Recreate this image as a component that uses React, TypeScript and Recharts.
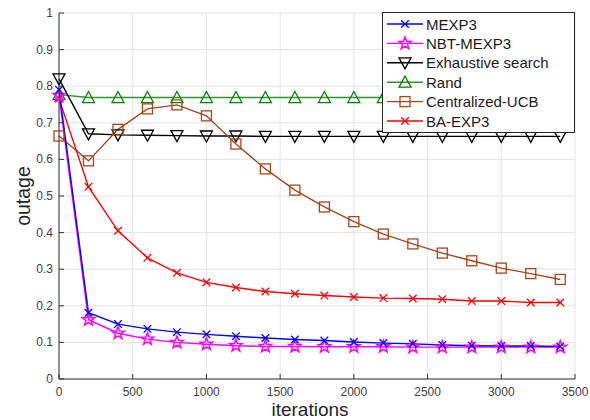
import React from 'react';
import { LineChart, Line, XAxis, YAxis, CartesianGrid } from 'recharts';

const iterations = [0, 200, 400, 600, 800, 1000, 1200, 1400, 1600, 1800, 2000, 2200, 2400, 2600, 2800, 3000, 3200, 3400];
const mexp3 = [0.79, 0.181, 0.15, 0.137, 0.128, 0.122, 0.117, 0.112, 0.108, 0.105, 0.101, 0.098, 0.096, 0.093, 0.091, 0.09, 0.09, 0.089];
const nbtMexp3 = [0.775, 0.162, 0.125, 0.109, 0.1, 0.095, 0.091, 0.089, 0.089, 0.088, 0.088, 0.088, 0.087, 0.087, 0.087, 0.087, 0.087, 0.087];
const exhaustive = [0.82, 0.67, 0.667, 0.666, 0.665, 0.664, 0.664, 0.663, 0.663, 0.663, 0.663, 0.663, 0.663, 0.663, 0.663, 0.663, 0.663, 0.663];
const rand = [0.777, 0.769, 0.769, 0.769, 0.769, 0.769, 0.769, 0.769, 0.769, 0.769, 0.769, 0.769, 0.769, 0.769, 0.769, 0.769, 0.769, 0.769];
const centralizedUcb = [0.664, 0.596, 0.682, 0.738, 0.749, 0.719, 0.642, 0.574, 0.516, 0.47, 0.43, 0.396, 0.369, 0.344, 0.323, 0.303, 0.288, 0.272];
const baExp3 = [0.766, 0.525, 0.405, 0.331, 0.29, 0.264, 0.25, 0.239, 0.233, 0.228, 0.224, 0.221, 0.22, 0.218, 0.213, 0.213, 0.209, 0.209];

const xTicks = [0, 500, 1000, 1500, 2000, 2500, 3000, 3500];
const yTicks = [0, 0.1, 0.2, 0.3, 0.4, 0.5, 0.6, 0.7, 0.8, 0.9, 1];

const data = iterations.map((it, i) => ({
  it,
  mexp3: mexp3[i],
  nbt: nbtMexp3[i],
  exh: exhaustive[i],
  rand: rand[i],
  ucb: centralizedUcb[i],
  ba: baExp3[i],
}));

type Shape = 'x' | 'star' | 'down' | 'up' | 'square';

function marker(shape: Shape, cx: number, cy: number, color: string, key?: any) {
  const sw = 1.3;
  if (shape === 'x') {
    const r = 3.8;
    return (
      <g key={key}>
        <line x1={cx - r} y1={cy - r} x2={cx + r} y2={cy + r} stroke={color} strokeWidth={sw} />
        <line x1={cx - r} y1={cy + r} x2={cx + r} y2={cy - r} stroke={color} strokeWidth={sw} />
      </g>
    );
  }
  if (shape === 'star') {
    const pts: string[] = [];
    for (let k = 0; k < 10; k++) {
      const r = k % 2 === 0 ? 6.5 : 2.7;
      const a = -Math.PI / 2 + (k * Math.PI) / 5;
      pts.push(`${cx + r * Math.cos(a)},${cy + r * Math.sin(a)}`);
    }
    return <polygon key={key} points={pts.join(' ')} fill="none" stroke={color} strokeWidth={1.5} />;
  }
  if (shape === 'down') {
    return (
      <polygon key={key} points={`${cx - 6},${cy - 5} ${cx + 6},${cy - 5} ${cx},${cy + 6}`} fill="none" stroke={color} strokeWidth={sw} />
    );
  }
  if (shape === 'up') {
    return (
      <polygon key={key} points={`${cx},${cy - 6} ${cx - 6},${cy + 5} ${cx + 6},${cy + 5}`} fill="none" stroke={color} strokeWidth={sw} />
    );
  }
  return <rect key={key} x={cx - 5} y={cy - 5} width={10} height={10} fill="none" stroke={color} strokeWidth={sw} />;
}

const dotFn = (shape: Shape, color: string) => (p: any) => marker(shape, p.cx, p.cy, color, p.key ?? `${shape}-${p.index}`);

const series = [
  { key: 'rand', name: 'Rand', line: '#2a962a', mark: '#008000', shape: 'up' as Shape },
  { key: 'exh', name: 'Exhaustive search', line: '#000000', mark: '#000000', shape: 'down' as Shape },
  { key: 'ucb', name: 'Centralized-UCB', line: '#a5461b', mark: '#a5461b', shape: 'square' as Shape },
  { key: 'ba', name: 'BA-EXP3', line: '#ff0000', mark: '#ff0000', shape: 'x' as Shape },
  { key: 'nbt', name: 'NBT-MEXP3', line: '#ff00ff', mark: '#ff00ff', shape: 'star' as Shape },
  { key: 'mexp3', name: 'MEXP3', line: '#0000ff', mark: '#0000ff', shape: 'x' as Shape },
];

const legendOrder = ['mexp3', 'nbt', 'exh', 'rand', 'ucb', 'ba'];

const TICK_COLOR = '#404040';
const AXIS_COLOR = '#333333';
const FONT = '"Liberation Sans", Arial, Helvetica, sans-serif';

const BottomTick = (p: any) => (
  <g>
    <line x1={p.x} y1={p.y} x2={p.x} y2={p.y - 5} stroke={AXIS_COLOR} strokeWidth={1} />
    <text x={p.x} y={p.y + 17} textAnchor="middle" fontSize={12} fill={TICK_COLOR} fontFamily={FONT}>
      {p.payload.value}
    </text>
  </g>
);
const LeftTick = (p: any) => (
  <g>
    <line x1={p.x} y1={p.y} x2={p.x + 5} y2={p.y} stroke={AXIS_COLOR} strokeWidth={1} />
    <text x={p.x - 6} y={p.y + 4} textAnchor="end" fontSize={12} fill={TICK_COLOR} fontFamily={FONT}>
      {Math.round(p.payload.value * 10) / 10}
    </text>
  </g>
);
const TopTick = (p: any) => <line x1={p.x} y1={p.y} x2={p.x} y2={p.y + 5} stroke={AXIS_COLOR} strokeWidth={1} />;
const RightTick = (p: any) => <line x1={p.x} y1={p.y} x2={p.x - 5} y2={p.y} stroke={AXIS_COLOR} strokeWidth={1} />;

const XLabel = (p: any) => {
  const vb = p.viewBox;
  return (
    <text x={vb.x + vb.width / 2 - 7} y={vb.y + vb.height - 4} textAnchor="middle" fontSize={19} fill="#262626" fontFamily={FONT}>
      iterations
    </text>
  );
};
const YLabel = (p: any) => {
  const vb = p.viewBox;
  const cx = 30;
  const cy = vb.y + vb.height / 2;
  return (
    <text x={cx} y={cy} transform={`rotate(-90 ${cx} ${cy})`} textAnchor="middle" fontSize={19.5} fill="#262626" fontFamily={FONT}>
      outage
    </text>
  );
};

export default function App() {
  const lx = 382;
  const ly = 12;
  return (
    <div style={{ position: 'absolute', left: 0, top: 0, width: 590, height: 420, background: '#fff' }}>
      <LineChart width={590} height={420} data={data} margin={{ top: 13, right: 15, bottom: 0, left: 0 }}>
        <CartesianGrid stroke="#e3e3e3" strokeWidth={1} />
        <XAxis
          dataKey="it"
          type="number"
          domain={[0, 3500]}
          ticks={xTicks}
          height={41}
          tickSize={0}
          tickMargin={0}
          tickLine={false}
          axisLine={{ stroke: AXIS_COLOR, strokeWidth: 1 }}
          tick={<BottomTick />}
          interval={0}
          label={<XLabel />}
        />
        <XAxis
          xAxisId="top"
          orientation="top"
          dataKey="it"
          type="number"
          domain={[0, 3500]}
          ticks={xTicks}
          height={0}
          tickSize={0}
          tickMargin={0}
          tickLine={false}
          axisLine={{ stroke: AXIS_COLOR, strokeWidth: 1 }}
          tick={<TopTick />}
          interval={0}
        />
        <YAxis
          type="number"
          domain={[0, 1]}
          ticks={yTicks}
          width={59}
          tickSize={0}
          tickMargin={0}
          tickLine={false}
          axisLine={{ stroke: AXIS_COLOR, strokeWidth: 1 }}
          tick={<LeftTick />}
          interval={0}
          label={<YLabel />}
        />
        <YAxis
          yAxisId="right"
          orientation="right"
          type="number"
          domain={[0, 1]}
          ticks={yTicks}
          width={0}
          tickSize={0}
          tickMargin={0}
          tickLine={false}
          axisLine={{ stroke: AXIS_COLOR, strokeWidth: 1 }}
          tick={<RightTick />}
          interval={0}
        />
        {series.map((s) => (
          <Line
            key={s.key}
            dataKey={s.key}
            name={s.name}
            type="linear"
            stroke={s.line}
            strokeWidth={1.4}
            dot={dotFn(s.shape, s.mark)}
            activeDot={false}
            isAnimationActive={false}
          />
        ))}
      </LineChart>
      <svg
        width={590}
        height={420}
        style={{ position: 'absolute', left: 0, top: 0, pointerEvents: 'none' }}
      >
        <rect x={lx + 0.5} y={ly + 0.5} width={192} height={120} fill="#ffffff" stroke="#262626" strokeWidth={1} />
        {legendOrder.map((k, i) => {
          const s = series.find((q) => q.key === k)!;
          const cy = 24 + i * 19.4;
          return (
            <g key={k}>
              <line x1={387} y1={cy} x2={423} y2={cy} stroke={s.line} strokeWidth={1.4} />
              {marker(s.shape, 405, cy, s.mark)}
              <text x={426} y={cy + 5.5} fontSize={15} fill="#1a1a1a" fontFamily={FONT}>
                {s.name}
              </text>
            </g>
          );
        })}
      </svg>
    </div>
  );
}
